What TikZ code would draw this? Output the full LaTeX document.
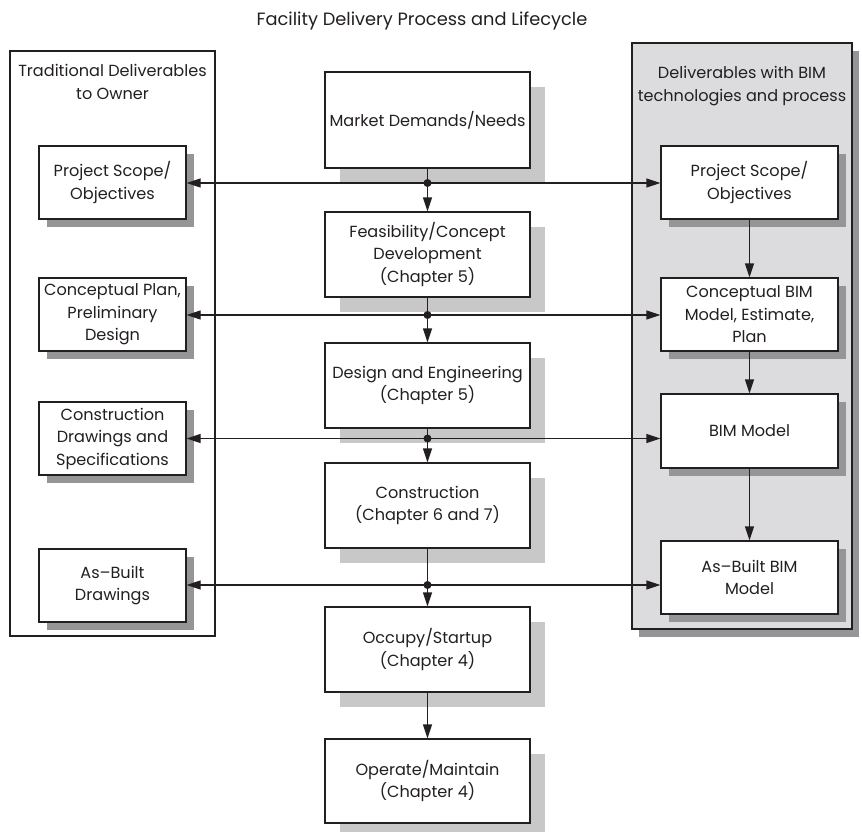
\documentclass[tikz,border=0pt]{standalone}
\usepackage{fontspec}
\setmainfont{Poppins}
\usetikzlibrary{arrows.meta,shadows}
\definecolor{lshadow}{HTML}{C8C8C9}
\definecolor{dshadow}{HTML}{959597}
\definecolor{panelgray}{HTML}{DCDCDE}
\definecolor{ink}{HTML}{231F20}
\begin{document}
\begin{tikzpicture}[x=1pt,y=-1pt,
  txt/.style={font=\fontsize{16.1}{22.5}\selectfont, text=ink, align=center, inner sep=0pt},
  cbox/.style={txt, draw=ink, line width=1.3pt, fill=white, minimum width=205pt, minimum height=85pt,
     general shadow={fill=lshadow, shadow xshift=15pt, shadow yshift=-15pt}},
  sbox/.style={txt, draw=ink, line width=1.3pt, fill=white, minimum height=73pt,
     general shadow={fill=dshadow, shadow xshift=8pt, shadow yshift=-8pt}},
  lbox/.style={sbox, minimum width=147pt},
  rbox/.style={sbox, minimum width=177pt},
  arr/.style={draw=ink, line width=1.3pt, -{Triangle[length=14pt,width=9pt]}},
  dot/.style={circle, fill=ink, inner sep=0pt, minimum size=8pt}]
\useasboundingbox (0,0) rectangle (862,832);
% title
\node[txt, font=\fontsize{17.8}{22}\selectfont] (title) at (422,21) {Facility Delivery Process and Lifecycle};
% panels
\node[draw=ink, line width=1.3pt, minimum width=205pt, minimum height=585pt, inner sep=0pt] (lpanel) at (112.5,343.5) {};
\node[draw=ink, line width=1.3pt, fill=panelgray, minimum width=220pt, minimum height=586pt, inner sep=0pt,
   general shadow={fill=dshadow, shadow xshift=7pt, shadow yshift=-8pt}] (rpanel) at (742,336) {};
\node[txt] (lhead) at (112.5,82) {Traditional Deliverables\\to Owner};
\node[txt] (rhead) at (742,86) {Deliverables with BIM\\technologies and process};
% center column
\node[cbox, minimum height=96pt] (market) at (427.5,120) {Market Demands/Needs};
\node[cbox] (feas) at (427.5,254.5) {Feasibility/Concept\\Development\\(Chapter 5)};
\node[cbox] (design) at (427.5,385.5) {Design and Engineering\\(Chapter 5)};
\node[cbox] (cons) at (427.5,505.5) {Construction\\(Chapter 6 and 7)};
\node[cbox] (occ) at (427.5,649.5) {Occupy/Startup\\(Chapter 4)};
\node[cbox, minimum height=84pt] (oper) at (427.5,781) {Operate/Maintain\\(Chapter 4)};
% left column
\node[lbox] (lps) at (112.5,182.5) {Project Scope/\\Objectives};
\node[lbox] (lcp) at (112.5,314.5) {Conceptual Plan,\\Preliminary\\Design};
\node[lbox] (lcd) at (112.5,438.5) {Construction\\Drawings and\\Specifications};
\node[lbox] (lab) at (112.5,585.5) {As--Built\\Drawings};
% right column
\node[rbox] (rps) at (749.5,182.5) {Project Scope/\\Objectives};
\node[rbox] (rcb) at (749.5,314.5) {Conceptual BIM\\Model, Estimate,\\Plan};
\node[rbox, minimum height=74pt] (rbim) at (749.5,431) {BIM Model};
\node[rbox] (rab) at (749.5,577.5) {As--Built BIM\\Model};
% junctions
\coordinate (j1) at (427.5,183);
\coordinate (j2) at (427.5,315);
\coordinate (j3) at (427.5,438.5);
\coordinate (j4) at (427.5,585);
% vertical flow
\draw[arr] (market) -- (feas);
\draw[arr] (feas) -- (design);
\draw[arr] (design) -- (cons);
\draw[arr] (cons) -- (occ);
\draw[arr] (occ) -- (oper);
% horizontal
\foreach \j/\l/\r in {j1/lps/rps, j2/lcp/rcb, j3/lcd/rbim, j4/lab/rab}{
  \draw[arr] (\j) -- (\l.east |- \j);
  \draw[arr] (\j) -- (\r.west |- \j);
  \node[dot] at (\j) {};
}
% right vertical
\draw[arr] (rps) -- (rcb);
\draw[arr] (rcb) -- (rbim);
\draw[arr] (rbim) -- (rab);
\end{tikzpicture}
\end{document}
